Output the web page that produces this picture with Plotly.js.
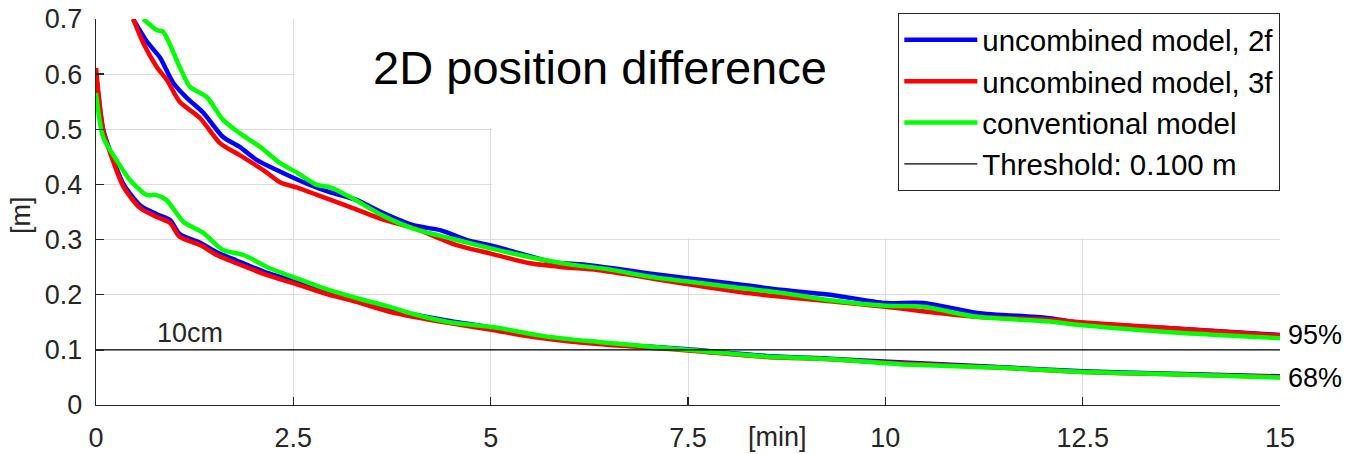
<!DOCTYPE html>
<html>
<head>
<meta charset="utf-8">
<script src="https://cdn.plot.ly/plotly-3.0.1.min.js"></script>
<style>html,body{margin:0;padding:0;background:#fff;}#chart{width:1350px;height:454px;}</style>
</head>
<body>
<div id="chart"></div>
<script>
// ---- data ----
var seriesNames = ['uncombined model, 2f', 'uncombined model, 3f', 'conventional model'];
var thresholdName = 'Threshold: 0.100 m';
var thresholdValue = 0.1;
var xTickVals = [0, 2.5, 5, 7.5, 10, 12.5, 15];
var xTickText = ['0', '2.5', '5', '7.5', '10', '12.5', '15'];
var yTickVals = [0, 0.1, 0.2, 0.3, 0.4, 0.5, 0.6, 0.7];
var yTickText = ['0', '0.1', '0.2', '0.3', '0.4', '0.5', '0.6', '0.7'];

// 95% curves (minutes, metres)
var blue95_t = [0.47,0.64,0.81,0.98,1.15,1.36,1.61,1.82,2.04,2.29,2.5,2.71,2.96,3.3,3.64,4.02,4.36,4.7,4.99,5.37,5.79,6.22,6.55,6.98,7.49,8.03,8.67,9.3,10.0,10.48,11.16,12.05,12.47,13.52,15.0];
var blue95_v = [0.70,0.66,0.63,0.584,0.557,0.53,0.486,0.468,0.444,0.426,0.412,0.399,0.386,0.372,0.348,0.326,0.317,0.299,0.29,0.275,0.259,0.254,0.248,0.239,0.23,0.221,0.209,0.2,0.185,0.185,0.167,0.158,0.149,0.14,0.127];
var red95_t = [0.47,0.6,0.77,0.9,1.06,1.32,1.57,1.82,2.12,2.33,2.55,2.8,3.22,3.64,4.02,4.57,4.99,5.5,5.92,6.35,6.77,7.4,8.25,9.3,10.0,11.16,12.05,12.47,13.52,15.0];
var red95_v = [0.70,0.656,0.613,0.589,0.55,0.52,0.475,0.453,0.426,0.404,0.394,0.381,0.359,0.336,0.321,0.29,0.275,0.257,0.25,0.245,0.236,0.221,0.203,0.188,0.178,0.16,0.155,0.15,0.14,0.126];
var green95_t = [0.6,0.77,0.85,1.06,1.19,1.4,1.61,1.82,2.08,2.33,2.55,2.8,2.96,3.22,3.64,4.02,4.5,5.0,5.5,6.0,6.5,7.0,7.5,8.0,8.7,9.3,10.0,10.48,11.16,12.05,12.47,13.52,15.0];
var green95_v = [0.70,0.68,0.677,0.613,0.577,0.559,0.517,0.493,0.468,0.439,0.421,0.399,0.395,0.377,0.343,0.32,0.302,0.284,0.268,0.255,0.246,0.233,0.224,0.215,0.203,0.19,0.18,0.178,0.16,0.152,0.145,0.133,0.121];

// 68% curves
var blue68_t = [0,0.09,0.18,0.35,0.56,0.77,0.94,1.06,1.32,1.53,1.78,2.16,2.5,2.88,3.3,3.72,4.02,4.5,4.99,5.5,6.0,6.5,7.0,7.5,8.5,9.3,10.1,11.42,12.5,13.52,15.0];
var blue68_v = [0.60,0.50,0.46,0.40,0.362,0.346,0.335,0.31,0.294,0.277,0.262,0.24,0.225,0.207,0.19,0.172,0.164,0.152,0.141,0.127,0.118,0.111,0.106,0.101,0.089,0.084,0.078,0.069,0.061,0.057,0.052];
var red68_t = [0,0.09,0.18,0.35,0.56,0.77,0.94,1.06,1.32,1.53,1.78,2.16,2.5,2.88,3.3,3.72,4.02,4.5,4.99,5.5,6.0,6.5,7.0,7.5,8.5,9.3,10.1,11.42,12.5,13.52,15.0];
var red68_v = [0.611,0.499,0.457,0.395,0.357,0.341,0.33,0.305,0.29,0.272,0.257,0.236,0.221,0.203,0.187,0.169,0.16,0.148,0.137,0.124,0.115,0.109,0.104,0.099,0.087,0.083,0.076,0.068,0.06,0.056,0.051];
var green68_t = [0,0.09,0.26,0.43,0.64,0.75,0.89,1.11,1.36,1.61,1.87,2.2,2.5,2.88,3.3,3.72,4.02,4.48,5.08,5.71,6.39,7.0,7.49,8.5,9.34,10.19,11.42,12.5,13.52,15.0];
var green68_v = [0.566,0.486,0.444,0.408,0.381,0.381,0.372,0.332,0.312,0.281,0.272,0.248,0.232,0.212,0.194,0.178,0.165,0.15,0.14,0.124,0.114,0.106,0.1,0.088,0.083,0.074,0.068,0.06,0.056,0.05];

var colors = ['#0000ff', '#ff0000', '#00ff00'];

// ---- build traces ----
var sets = [
  [blue95_t, blue95_v, blue68_t, blue68_v],
  [red95_t, red95_v, red68_t, red68_v],
  [green95_t, green95_v, green68_t, green68_v]
];
var traces = [];
sets.forEach(function (s, i) {
  traces.push({x: s[0], y: s[1], type: 'scatter', mode: 'lines', name: seriesNames[i],
    legendgroup: 'g' + i, line: {color: colors[i], width: 4.5, shape: 'spline', smoothing: 0.7}});
  traces.push({x: s[2], y: s[3], type: 'scatter', mode: 'lines', name: seriesNames[i],
    legendgroup: 'g' + i, showlegend: false, line: {color: colors[i], width: 4.5, shape: 'spline', smoothing: 0.7}});
});
traces.push({x: [xTickVals[0], xTickVals[xTickVals.length - 1]], y: [thresholdValue, thresholdValue],
  type: 'scatter', mode: 'lines', name: thresholdName, line: {color: '#000000', width: 1.2}});

var tickFont = {family: 'Liberation Sans, Arial, sans-serif', size: 27, color: '#262626'};

var layout = {
  width: 1350, height: 454,
  margin: {l: 96, r: 70, t: 19, b: 49},
  paper_bgcolor: '#ffffff', plot_bgcolor: '#ffffff',
  showlegend: true,
  title: {text: '2D position difference', x: 600 / 1350, xanchor: 'center', xref: 'container',
    y: 1 - 68 / 454, yanchor: 'middle', yref: 'container',
    font: {family: 'Liberation Sans, Arial, sans-serif', size: 47, color: '#000000'}},
  xaxis: {range: [0, 15], tickvals: xTickVals, ticktext: xTickText, ticks: 'inside', ticklen: 8,
    tickcolor: '#262626', tickwidth: 1.3, showline: true, linecolor: '#262626', linewidth: 1.3,
    showgrid: true, gridcolor: '#dcdcdc', gridwidth: 1, zeroline: false, tickfont: tickFont,
    ticklabelstandoff: 8, fixedrange: true},
  yaxis: {range: [0, 0.7], tickvals: yTickVals, ticktext: yTickText, ticks: 'inside', ticklen: 8,
    tickcolor: '#262626', tickwidth: 1.3, showline: true, linecolor: '#262626', linewidth: 1.3,
    showgrid: true, gridcolor: '#dcdcdc', gridwidth: 1, zeroline: false, tickfont: tickFont,
    ticklabelstandoff: 7, fixedrange: true},
  legend: {x: 1, xanchor: 'right', y: 1.016, yanchor: 'top', bgcolor: '#ffffff',
    bordercolor: '#262626', borderwidth: 1.3, itemwidth: 73, traceorder: 'normal',
    font: {family: 'Liberation Sans, Arial, sans-serif', size: 29.5, color: '#000000'}},
  shapes: [
    {type: 'rect', xref: 'x', yref: 'y', x0: 2.52, x1: 15.2, y0: 0.503, y1: 0.72,
      fillcolor: '#ffffff', line: {width: 0}, layer: 'between'},
    {type: 'rect', xref: 'x', yref: 'y', x0: 5.02, x1: 15.2, y0: 0.303, y1: 0.51,
      fillcolor: '#ffffff', line: {width: 0}, layer: 'between'}
  ],
  annotations: [
    {text: '10cm', xref: 'x', yref: 'y', x: 0.75, y: 0.131, xanchor: 'left', yanchor: 'middle',
      showarrow: false, font: tickFont},
    {text: '95%', xref: 'x', yref: 'y', x: 15, y: 0.127, xanchor: 'left', yanchor: 'middle',
      xshift: 6, showarrow: false, font: {family: 'Liberation Sans, Arial, sans-serif', size: 27, color: '#000000'}},
    {text: '68%', xref: 'x', yref: 'y', x: 15, y: 0.049, xanchor: 'left', yanchor: 'middle',
      xshift: 6, showarrow: false, font: {family: 'Liberation Sans, Arial, sans-serif', size: 27, color: '#000000'}},
    {text: '[min]', xref: 'x', yref: 'paper', x: 8.64, y: -(437 - 405) / 386, xanchor: 'center',
      yanchor: 'middle', showarrow: false, font: tickFont},
    {text: '[m]', xref: 'paper', yref: 'paper', x: (21 - 96) / 1184, y: (405 - 215) / 386,
      xanchor: 'center', yanchor: 'middle', textangle: -90, showarrow: false, font: tickFont}
  ]
};

Plotly.newPlot('chart', traces, layout, {displayModeBar: false, staticPlot: true});
</script>
</body>
</html>
